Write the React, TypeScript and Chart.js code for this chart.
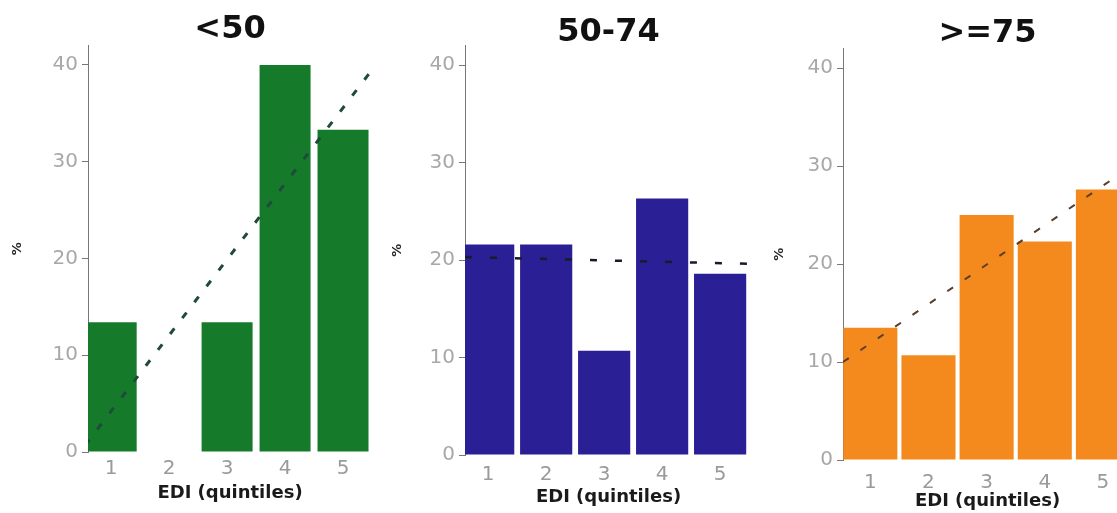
import React, { useEffect, useRef } from 'react';
import { Chart, registerables } from 'chart.js';

Chart.register(...registerables);

// ---- data ----
const quintiles = [1, 2, 3, 4, 5];
const quintileLabels = ['1', '2', '3', '4', '5'];
const yTickValues = [0, 10, 20, 30, 40];
const panelTitles = ['<50', '50-74', '>=75'];
const valuesUnder50 = [13.4, 0, 13.4, 40, 33.3];
const values50to74 = [21.6, 21.6, 10.7, 26.3, 18.6];
const values75plus = [13.5, 10.7, 25.0, 22.3, 27.6];
const trendXUnder50 = [0.55, 5.45];
const trendUnder50 = [0.7, 39.1];
const trendX50to74 = [0.6, 5.55];
const trend50to74 = [20.3, 19.6];
const trendX75plus = [0.53, 5.5];
const trend75plus = [10.0, 30.0];
const xAxisTitle = 'EDI (quintiles)';
const yAxisTitle = '%';

// ---- layout / style per panel ----
const panels = [
  {
    title: panelTitles[0], values: valuesUnder50, tx: trendXUnder50, ty: trendUnder50,
    color: '#167a2b', trendColor: '#1f4a3c', dash: [7, 13], trendWidth: 3,
    left: 0, axisW: 88, width: 372, xMin: 0.6, xMax: 5.5, barPct: 0.88,
    titlePadTop: 14, titlePadBottom: -0.4, chartBottom: 452, tickPad: 5, xTitlePadBottom: 9, yTitlePadTop: 10,
  },
  {
    title: panelTitles[1], values: values50to74, tx: trendX50to74, ty: trend50to74,
    color: '#2b1f96', trendColor: '#1a1a2a', dash: [7, 18], trendWidth: 2.5,
    left: 380, axisW: 85, width: 372, xMin: 0.6, xMax: 5.55, barPct: 0.9,
    titlePadTop: 17, titlePadBottom: -3.5, chartBottom: 455, tickPad: 8, xTitlePadBottom: 5, yTitlePadTop: 10,
  },
  {
    title: panelTitles[2], values: values75plus, tx: trendX75plus, ty: trend75plus,
    color: '#f48a1e', trendColor: '#5a3d2a', dash: [7, 14], trendWidth: 2,
    left: 760, axisW: 83, width: 372, xMin: 0.53, xMax: 5.5, barPct: 0.93,
    titlePadTop: 18, titlePadBottom: -1.6, chartBottom: 460, tickPad: 11, xTitlePadBottom: 0.5, yTitlePadTop: 12,
  },
];

const H = 513;

function Panel({ p }: { p: any }) {
  const ref = useRef<HTMLCanvasElement>(null);
  useEffect(() => {
    if (!ref.current) return;
    const chart = new Chart(ref.current, {
      type: 'bar',
      data: {
        datasets: [
          {
            type: 'line',
            data: p.tx.map((x: number, i: number) => ({ x, y: p.ty[i] })),
            borderColor: p.trendColor,
            borderWidth: p.trendWidth,
            borderDash: p.dash,
            pointRadius: 0,
            fill: false,
            order: 0,
          } as any,
          {
            type: 'bar',
            data: quintiles.map((q, i) => ({ x: q, y: p.values[i] })),
            backgroundColor: p.color,
            borderWidth: 0,
            barPercentage: p.barPct,
            categoryPercentage: 1,
            order: 1,
          } as any,
        ],
      },
      options: {
        responsive: false,
        animation: false,
        layout: { padding: { left: 0, right: 0, top: 0, bottom: 0 } },
        plugins: {
          legend: { display: false },
          tooltip: { enabled: false },
          title: {
            display: true,
            text: p.title,
            fullSize: false,
            color: '#111',
            font: { family: 'DejaVu Sans', size: 32, weight: 'bold', lineHeight: 1 },
            padding: { top: p.titlePadTop, bottom: p.titlePadBottom },
          },
        },
        scales: {
          x: {
            type: 'linear',
            min: p.xMin,
            max: p.xMax,
            offset: false,
            grid: { display: false, drawTicks: false },
            border: { display: false },
            afterBuildTicks: (s: any) => { s.ticks = quintiles.map((v) => ({ value: v })); },
            afterFit: (s: any) => { s.height = H - p.chartBottom; },
            ticks: {
              padding: p.tickPad,
              color: '#9a9a9a',
              font: { family: 'DejaVu Sans', size: 20 },
              callback: (v: any) => quintileLabels[quintiles.indexOf(Number(v))] ?? '',
            },
            title: {
              display: true,
              text: xAxisTitle,
              color: '#1a1a1a',
              font: { family: 'DejaVu Sans', size: 18, weight: 'bold' },
              padding: { top: 0, bottom: p.xTitlePadBottom },
            },
          },
          y: {
            min: 0,
            max: 42,
            grid: { drawOnChartArea: false, drawTicks: true, tickLength: 6, color: '#777' },
            border: { display: true, color: '#777', width: 1 },
            afterBuildTicks: (s: any) => { s.ticks = yTickValues.map((v) => ({ value: v })); },
            afterFit: (s: any) => { s.width = p.axisW; },
            ticks: {
              padding: 4,
              color: '#a8a8a8',
              font: { family: 'DejaVu Sans', size: 20 },
            },
            title: {
              display: true,
              text: yAxisTitle,
              color: '#222',
              font: { family: 'DejaVu Sans', size: 13, weight: 'bold' },
              padding: { top: p.yTitlePadTop, bottom: 0 },
            },
          },
        },
      } as any,
    });
    return () => chart.destroy();
  }, [p]);
  return (
    <canvas
      ref={ref}
      width={p.width}
      height={H}
      style={{ position: 'absolute', left: p.left, top: 0, width: p.width, height: H }}
    />
  );
}

export default function App() {
  return (
    <div
      style={{
        position: 'absolute', left: 0, top: 0, width: 1117, height: 513,
        overflow: 'hidden', background: '#fff',
      }}
    >
      {panels.map((p, i) => (
        <Panel key={i} p={p} />
      ))}
    </div>
  );
}
